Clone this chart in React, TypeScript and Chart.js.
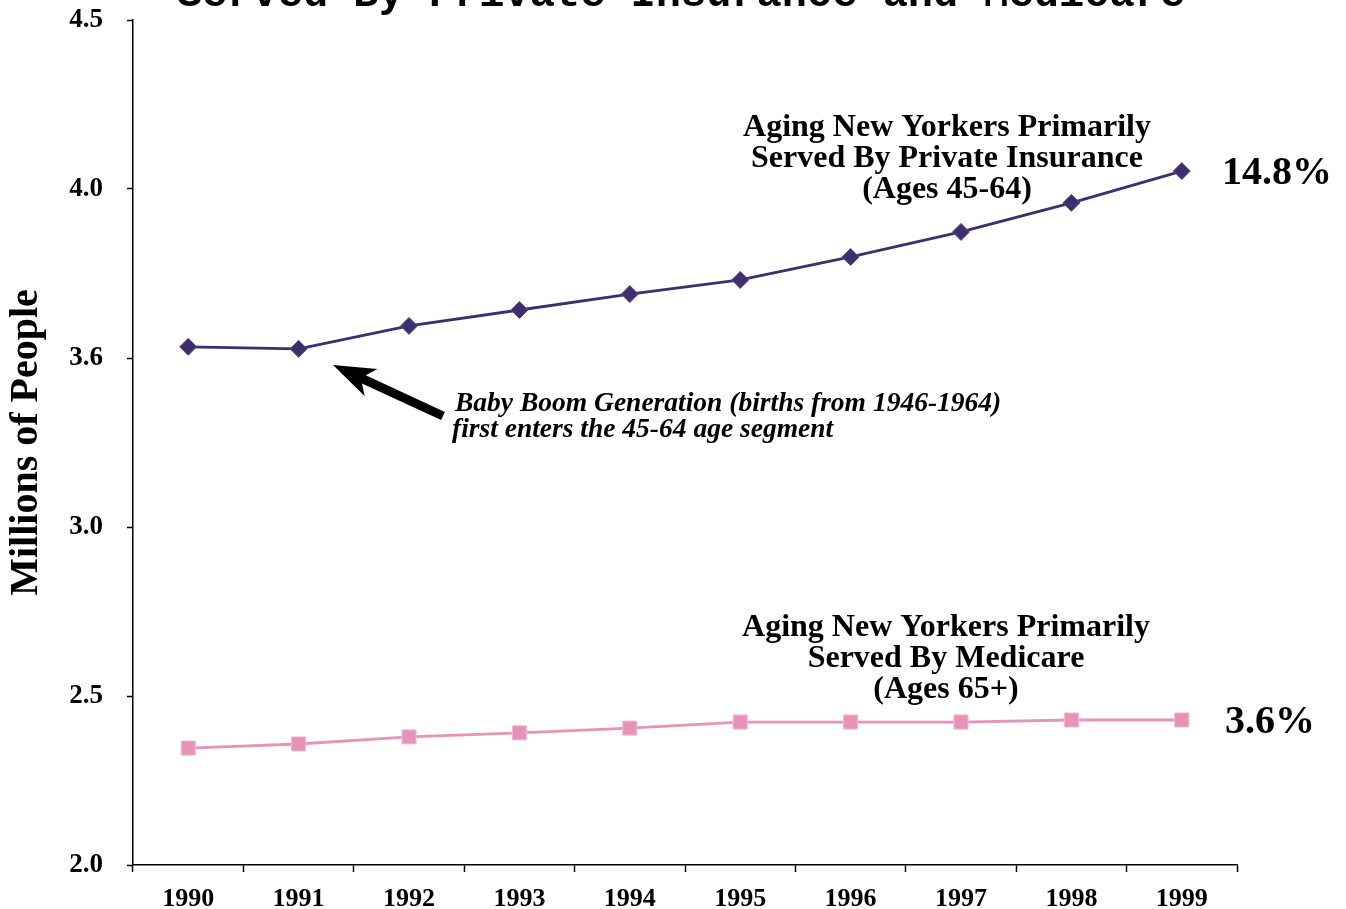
import React, { useEffect, useRef } from 'react';
import { Chart, registerables } from 'chart.js';

Chart.register(...registerables);

const years = ['1990', '1991', '1992', '1993', '1994', '1995', '1996', '1997', '1998', '1999'];
const privateInsurance = [3.533, 3.527, 3.595, 3.642, 3.689, 3.731, 3.799, 3.873, 3.959, 4.053];
const medicare = [2.346, 2.358, 2.379, 2.391, 2.405, 2.423, 2.423, 2.423, 2.429, 2.429];
const yTickValues = [2.0, 2.5, 3.0, 3.5, 4.0, 4.5];
const yTickLabels = ['2.0', '2.5', '3.0', '3.6', '4.0', '4.5'];

const titleText = 'Served By Private Insurance and Medicare';
const privateLabel = ['Aging New Yorkers Primarily', 'Served By Private Insurance', '(Ages 45-64)'];
const medicareLabel = ['Aging New Yorkers Primarily', 'Served By Medicare', '(Ages 65+)'];
const privateGrowth = '14.8%';
const medicareGrowth = '3.6%';
const noteLines = ['Baby Boom Generation (births from 1946-1964)', 'first enters the 45-64 age segment'];

const SERIF = '"Liberation Serif", "Times New Roman", Times, serif';
const MONO = '"Liberation Mono", "Courier New", monospace';

const annotationPlugin = {
  id: 'annotations',
  afterDraw(chart: any) {
    const ctx: CanvasRenderingContext2D = chart.ctx;
    ctx.save();
    ctx.fillStyle = '#000';
    ctx.textBaseline = 'alphabetic';

    // cut-off title
    ctx.font = `bold 42px ${MONO}`;
    ctx.textAlign = 'center';
    ctx.fillText(titleText, 681, 6);

    // series labels
    ctx.font = `bold 32px ${SERIF}`;
    privateLabel.forEach((t, i) => ctx.fillText(t, 947, 136 + i * 31));
    medicareLabel.forEach((t, i) => ctx.fillText(t, 946, 636 + i * 31));

    // growth
    ctx.font = `bold 40px ${SERIF}`;
    ctx.textAlign = 'left';
    ctx.fillText(privateGrowth, 1222, 184);
    ctx.fillText(medicareGrowth, 1225, 733);

    // note
    ctx.font = `italic bold 27.5px ${SERIF}`;
    ctx.fillText(noteLines[0], 455, 411);
    ctx.fillText(noteLines[1], 452, 437);

    // arrow
    const tip = { x: 333, y: 365 };
    const tail = { x: 443, y: 416 };
    const ang = Math.atan2(tail.y - tip.y, tail.x - tip.x);
    const headLen = 42;
    const headHalf = 15;
    const shaftHalf = 4.5;
    const cos = Math.cos(ang), sin = Math.sin(ang);
    const px = -sin, py = cos;
    const base = { x: tip.x + cos * headLen, y: tip.y + sin * headLen };
    const neck = { x: tip.x + cos * (headLen - 8), y: tip.y + sin * (headLen - 8) };
    ctx.beginPath();
    ctx.moveTo(tip.x, tip.y);
    ctx.lineTo(base.x + px * headHalf, base.y + py * headHalf);
    ctx.lineTo(neck.x + px * shaftHalf, neck.y + py * shaftHalf);
    ctx.lineTo(tail.x + px * shaftHalf, tail.y + py * shaftHalf);
    ctx.lineTo(tail.x - px * shaftHalf, tail.y - py * shaftHalf);
    ctx.lineTo(neck.x - px * shaftHalf, neck.y - py * shaftHalf);
    ctx.lineTo(base.x - px * headHalf, base.y - py * headHalf);
    ctx.closePath();
    ctx.fill();

    ctx.restore();
  },
};

export default function App() {
  const canvasRef = useRef<HTMLCanvasElement | null>(null);

  useEffect(() => {
    if (!canvasRef.current) return;
    const chart = new Chart(canvasRef.current, {
      type: 'line',
      data: {
        labels: years,
        datasets: [
          {
            label: 'Private Insurance (Ages 45-64)',
            data: privateInsurance,
            borderColor: '#3d2f6e',
            backgroundColor: '#3d2f6e',
            borderWidth: 2.8,
            pointStyle: 'rectRot',
            pointRadius: 8.5,
            pointBorderWidth: 1,
            pointBackgroundColor: '#3d2f6e',
            pointBorderColor: '#5a4c8a',
            tension: 0,
          },
          {
            label: 'Medicare (Ages 65+)',
            data: medicare,
            borderColor: '#e693b8',
            backgroundColor: '#e693b8',
            borderWidth: 2.8,
            pointStyle: 'rect',
            pointRadius: 10,
            pointBorderWidth: 1,
            pointBackgroundColor: '#e693b8',
            pointBorderColor: '#f2bcd4',
            tension: 0,
          },
        ],
      },
      options: {
        responsive: false,
        animation: false,
        layout: { padding: { top: 20, right: 109, left: 0, bottom: 0 } },
        plugins: {
          legend: { display: false },
          tooltip: { enabled: false },
          title: { display: false },
        },
        scales: {
          x: {
            type: 'category',
            offset: true,
            grid: {
              display: true,
              drawOnChartArea: false,
              offset: true,
              tickLength: 7,
              tickColor: '#000',
              tickWidth: 1.5,
            },
            border: { display: true, color: '#000', width: 1.5 },
            ticks: {
              color: '#000',
              padding: 12,
              maxRotation: 0,
              autoSkip: false,
              font: { family: SERIF, size: 26, weight: 'bold' },
            },
            afterFit: (scale: any) => {
              scale.height = 44;
              scale.paddingLeft = 0;
              scale.paddingRight = 0;
            },
          },
          y: {
            type: 'linear',
            min: 2.0,
            max: 4.5,
            afterBuildTicks: (scale: any) => {
              scale.ticks = yTickValues.map((v) => ({ value: v }));
            },
            ticks: {
              color: '#000',
              padding: 24,
              font: { family: SERIF, size: 27, weight: 'bold' },
              callback: (value: any) => {
                const i = yTickValues.findIndex((v) => Math.abs(v - Number(value)) < 1e-6);
                return i >= 0 ? yTickLabels[i] : '';
              },
            },
            grid: {
              display: true,
              drawOnChartArea: false,
              tickLength: 6,
              tickColor: '#000',
              tickWidth: 1.5,
            },
            border: { display: true, color: '#000', width: 1.5 },
            title: {
              display: true,
              text: 'Millions of People',
              color: '#000',
              font: { family: SERIF, size: 40, weight: 'bold' },
              padding: { top: 3, bottom: 0 },
            },
            afterFit: (scale: any) => {
              scale.width = 133;
              scale.paddingTop = 0;
              scale.paddingBottom = 0;
            },
          },
        },
      },
      plugins: [annotationPlugin],
    });
    return () => chart.destroy();
  }, []);

  return (
    <div style={{ position: 'absolute', left: 0, top: 0, width: 1346, height: 909, background: '#fff' }}>
      <canvas ref={canvasRef} width={1346} height={909} style={{ display: 'block' }} />
    </div>
  );
}
